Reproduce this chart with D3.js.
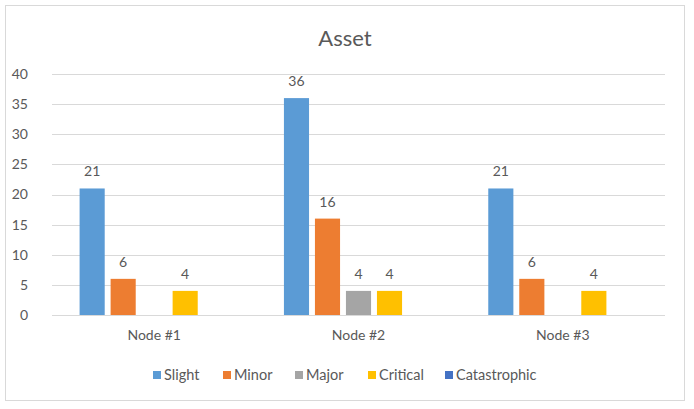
<!DOCTYPE html>
<html><head><meta charset="utf-8">
<script src="https://cdn.jsdelivr.net/npm/d3@7"></script>
<style>html,body{margin:0;padding:0;background:#fff;}svg{display:block;}</style>
</head><body>
<script>
const categories = ["Node #1", "Node #2", "Node #3"];
const seriesNames = ["Slight", "Minor", "Major", "Critical", "Catastrophic"];
const slight = [21, 36, 21];
const minor = [6, 16, 6];
const major = [0, 4, 0];
const critical = [4, 4, 4];
const catastrophic = [0, 0, 0];
const yTicks = [0, 5, 10, 15, 20, 25, 30, 35, 40];
const colors = ["#5B9BD5", "#ED7D31", "#A5A5A5", "#FFC000", "#4472C4"];
const seriesValues = [slight, minor, major, critical, catastrophic];

(function () {
const W = 694, H = 409;
const font = "Lato, 'Open Sans', sans-serif";
const txt = "#595959";
const svg = d3.select("body").append("svg").attr("width", W).attr("height", H);

svg.append("rect").attr("x", 5.5).attr("y", 5.5).attr("width", 679).attr("height", 395)
  .attr("fill", "#fff").attr("stroke", "#d9d9d9");

const pLeft = 52, pRight = 665, pTop = 74, pBottom = 315;
const x0 = d3.scaleBand().domain(categories).range([pLeft, pRight]).padding(0);
const x1 = d3.scaleBand().domain(seriesNames).range([0, x0.bandwidth()]).paddingInner(0.19).paddingOuter(0.89);
const y = d3.scaleLinear().domain([0, 40]).range([pBottom, pTop]);

svg.append("text").attr("x", 345).attr("y", 46).attr("text-anchor", "middle")
  .attr("font-family", font).attr("font-size", 22).attr("fill", txt).text("Asset");

svg.append("g").selectAll("line").data(yTicks).join("line")
  .attr("x1", pLeft).attr("x2", pRight)
  .attr("y1", d => Math.round(y(d)) + 0.5).attr("y2", d => Math.round(y(d)) + 0.5)
  .attr("stroke", "#d9d9d9").attr("stroke-width", 1);

const yAxis = d3.axisLeft(y).tickValues(yTicks).tickSize(0).tickPadding(0);
const gy = svg.append("g").attr("transform", `translate(${pLeft - 24},0)`).call(yAxis);
gy.select(".domain").remove();
gy.selectAll("text").attr("font-family", font).attr("font-size", 14).attr("fill", txt);

const xAxis = d3.axisBottom(x0).tickSize(0).tickPadding(0);
const gx = svg.append("g").attr("transform", `translate(0,${pBottom + 15})`).call(xAxis);
gx.select(".domain").remove();
gx.selectAll("text").attr("font-family", font).attr("font-size", 14).attr("fill", txt);

const data = [];
categories.forEach((c, i) => seriesNames.forEach((s, j) => data.push({c, s, v: seriesValues[j][i], color: colors[j]})));
svg.append("g").selectAll("rect").data(data.filter(d => d.v > 0)).join("rect")
  .attr("x", d => x0(d.c) + x1(d.s)).attr("width", x1.bandwidth())
  .attr("y", d => y(d.v)).attr("height", d => y(0) - y(d.v))
  .attr("fill", d => d.color);

svg.append("g").selectAll("text").data(data.filter(d => d.v > 0)).join("text")
  .attr("x", d => x0(d.c) + x1(d.s) + x1.bandwidth() / 2).attr("y", d => y(d.v) - 12)
  .attr("text-anchor", "middle").attr("font-family", font).attr("font-size", 14).attr("fill", txt)
  .text(d => d.v);

const legX = [153, 223, 295, 368, 445];
const lg = svg.append("g").selectAll("g").data(seriesNames).join("g")
  .attr("transform", (d, i) => `translate(${legX[i]},375)`);
lg.append("rect").attr("x", 0).attr("y", -4).attr("width", 8).attr("height", 8).attr("fill", (d, i) => colors[i]);
lg.append("text").attr("x", 11).attr("y", 0).attr("dy", "0.35em").attr("font-family", font)
  .attr("font-size", 14.5).attr("fill", txt).text(d => d);
})();
</script>
</body></html>
